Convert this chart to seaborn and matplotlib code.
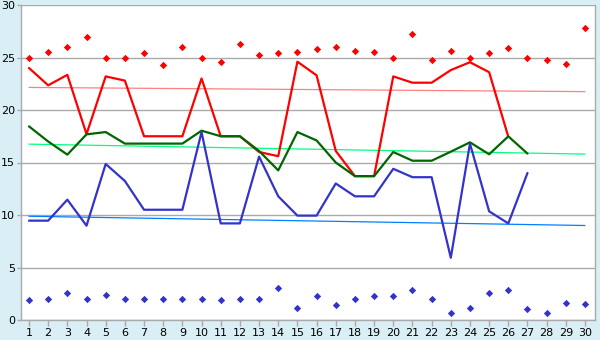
import numpy as np
import pandas as pd
import matplotlib
matplotlib.use("Agg")
import matplotlib.pyplot as plt
import seaborn as sns

days = list(range(1, 31))

# record highs / lows per day
record_high = [25.0, 25.5, 26.0, 27.0, 25.0, 25.0, 25.4, 24.25, 26.0, 25.0,
               24.6, 26.25, 25.2, 25.4, 25.5, 25.8, 26.0, 25.6, 25.5, 25.0,
               27.2, 24.8, 25.6, 25.0, 25.4, 25.9, 25.0, 24.8, 24.35, 27.8]
record_low = [1.87, 1.97, 2.54, 1.97, 2.35, 1.97, 1.97, 1.97, 1.97, 1.97,
              1.87, 1.97, 1.97, 3.02, 1.11, 2.25, 1.4, 1.97, 2.25, 2.25,
              2.83, 1.97, 0.63, 1.11, 2.54, 2.83, 1.02, 0.63, 1.59, 1.49]

# observed daily maximum, mean and minimum
obs_max = [24.0, 22.35, 23.35, 17.7, 23.2, 22.8, 17.5, 17.5, 17.5, 23.0,
           17.5, 17.5, 16.0, 15.6, 24.6, 23.3, 16.1, 13.7, 13.7, 23.2,
           22.6, 22.6, 23.8, 24.55, 23.6, 17.45]
obs_mean = [18.44, 17.0, 15.75, 17.68, 17.9, 16.8, 16.8, 16.8, 16.8, 18.03,
            17.5, 17.5, 16.1, 14.25, 17.9, 17.1, 15.0, 13.7, 13.7, 16.0,
            15.17, 15.17, 16.03, 16.92, 15.78, 17.49, 15.85]
obs_min = [9.46, 9.46, 11.46, 8.98, 14.86, 13.24, 10.5, 10.5, 10.5, 17.9,
           9.2, 9.2, 15.56, 11.78, 9.94, 9.94, 13.0, 11.78, 11.78, 14.4,
           13.6, 13.6, 5.93, 16.8, 10.35, 9.2, 14.0]

# long-term normals at the first and last day of the month
normal_max = [22.15, 21.75]
normal_mean = [16.75, 15.8]
normal_min = [9.88, 9.0]
normal_days = [1, 30]

y_ticks = [0, 5, 10, 15, 20, 25, 30]

sns.set_style("white")
plt.rcParams['font.family'] = ['DejaVu Sans']

fig = plt.figure(figsize=(6.0, 3.4), dpi=100)
fig.patch.set_facecolor('#d9eef5')
ax = fig.add_axes([20.5 / 600, 20 / 340, (595 - 20.5) / 600, 315 / 340])
ax.set_facecolor('white')

ax.set_ylim(0, 30)
ax.set_xlim(1 - 8.5 / 19.17, 30 + 10 / 19.17)
ax.set_yticks(y_ticks)
ax.set_xticks(days)
ax.yaxis.grid(True, color='#aaaaaa', linewidth=1.0)
ax.set_axisbelow(True)

# normals
for vals, col in [(normal_max, '#ff8080'), (normal_mean, '#00ff80'), (normal_min, '#0080ff')]:
    sns.lineplot(x=normal_days, y=vals, ax=ax, color=col, linewidth=0.9)

# observed series
sns.lineplot(x=days[:len(obs_max)], y=obs_max, ax=ax, color='#ff0000', linewidth=1.6)
sns.lineplot(x=days[:len(obs_mean)], y=obs_mean, ax=ax, color='#006600', linewidth=1.6)
sns.lineplot(x=days[:len(obs_min)], y=obs_min, ax=ax, color='#3333cc', linewidth=1.6)

# records
sns.scatterplot(x=days, y=record_high, ax=ax, color='#ff0000', marker='D', s=14,
                linewidth=0)
sns.scatterplot(x=days, y=record_low, ax=ax, color='#3333cc', marker='D', s=14,
                linewidth=0)

for side in ['left', 'bottom', 'right', 'top']:
    ax.spines[side].set_color('#aaaaaa')
    ax.spines[side].set_linewidth(1.0)
ax.spines['top'].set_visible(False)

ax.tick_params(axis='both', colors='#aaaaaa', labelcolor='black', labelsize=8,
               width=1, direction='out')
ax.tick_params(axis='y', left=True, length=3, pad=1)
ax.tick_params(axis='x', bottom=True, length=4, pad=2)
ax.set_xlabel('')
ax.set_ylabel('')

fig.savefig('out.png', dpi=100, facecolor=fig.get_facecolor())
